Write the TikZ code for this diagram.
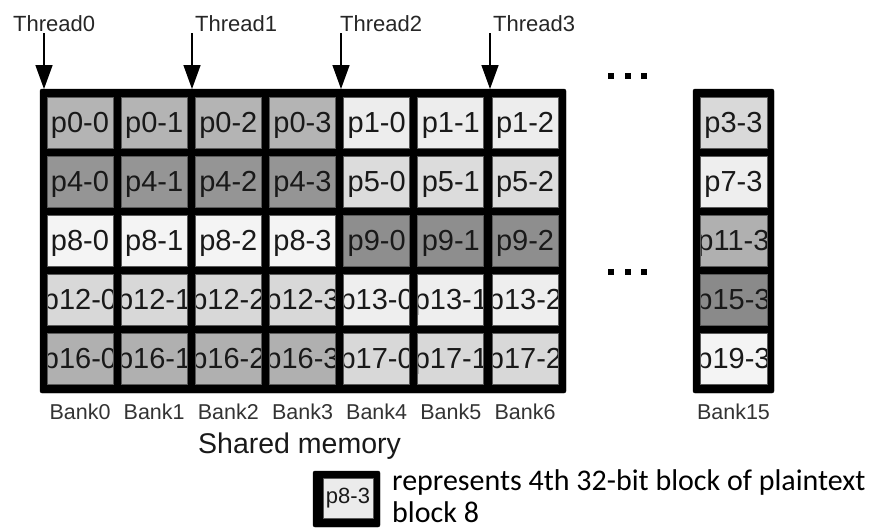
\documentclass[tikz,border=0pt]{standalone}
\usepackage{fontspec}
\setmainfont{Liberation Sans}
\newfontfamily\legendfont{Carlito}
\usetikzlibrary{arrows.meta,calc}

% fill shades of the plaintext blocks
\definecolor{rowA0}{HTML}{B4B4B4}
\definecolor{rowB0}{HTML}{EDEDED}
\definecolor{rowC0}{HTML}{D9D9D9}
\definecolor{rowA1}{HTML}{959595}
\definecolor{rowB1}{HTML}{DCDCDC}
\definecolor{rowC1}{HTML}{EEEEEE}
\definecolor{rowA2}{HTML}{F4F4F4}
\definecolor{rowB2}{HTML}{8E8E8E}
\definecolor{rowC2}{HTML}{B0B0B0}
\definecolor{rowA3}{HTML}{D8D8D8}
\definecolor{rowB3}{HTML}{EEEEEE}
\definecolor{rowC3}{HTML}{8A8A8A}
\definecolor{rowA4}{HTML}{B0B0B0}
\definecolor{rowB4}{HTML}{D8D8D8}
\definecolor{rowC4}{HTML}{F4F4F4}
\definecolor{legendcell}{HTML}{EBEBEB}
\definecolor{celledge}{HTML}{5A5A5A}

\tikzset{
  memframe/.style={fill=black, draw=black, rounded corners=2pt, inner sep=0pt,
    outer sep=0pt, anchor=north west},
  cellbox/.style={draw=celledge, line width=0.8pt, minimum width=66pt,
    minimum height=51pt, inner sep=0pt, outer sep=0pt, anchor=north west},
  celltext/.style={font=\fontsize{29}{29}\selectfont, text=black!90,
    anchor=base, inner sep=0pt},
  threadlabel/.style={font=\fontsize{22}{22}\selectfont, text=black!85,
    anchor=base west, inner sep=0pt},
  threadarrow/.style={line width=1.5pt, -{Triangle[width=17pt,length=24pt]},
    shorten <=2pt},
  banklabel/.style={font=\fontsize{21.5}{21.5}\selectfont, text=black!80,
    anchor=base, inner sep=0pt},
  dotsq/.style={fill=black, minimum size=6pt, inner sep=0pt},
  legendtext/.style={font=\legendfont\fontsize{30}{33}\selectfont,
    anchor=base west, inner sep=0pt},
}

% one memory word: name, x, y, fill, label text (clipped to the cell)
\newcommand\memcell[6][66pt]{%
  \node[cellbox, minimum width=#1, fill=#5,
    path picture={\node[celltext] at ([yshift=-10pt]path picture bounding box.center) {#6};}]
    (#2) at (#3,#4) {};}

\begin{document}
\begin{tikzpicture}[x=1pt, y=-1pt]
\useasboundingbox (0,0) rectangle (876,530);

% shared memory banks 0..6
\node[memframe, minimum width=526pt, minimum height=304pt] (mem) at (40,89) {};
\foreach \r in {0,...,4} {
  \pgfmathtruncatemacro\pa{4*\r}
  \pgfmathtruncatemacro\pb{4*\r+1}
  \pgfmathsetmacro\yy{97+59*\r}
  \foreach \c in {0,...,6} {
    \pgfmathsetmacro\xx{47+74.17*\c}
    \ifnum\c<4
      \memcell{cell-\r-\c}{\xx}{\yy}{rowA\r}{p\pa-\c}
    \else
      \pgfmathtruncatemacro\k{\c-4}
      \memcell{cell-\r-\c}{\xx}{\yy}{rowB\r}{p\pb-\k}
    \fi
  }
}

% bank 15
\node[memframe, minimum width=81pt, minimum height=304pt] (mem15) at (693,89) {};
\foreach \r in {0,...,4} {
  \pgfmathtruncatemacro\pc{4*\r+3}
  \pgfmathsetmacro\yy{97+59*\r}
  \memcell[67pt]{cell-\r-15}{700}{\yy}{rowC\r}{p\pc-3}
}

% bank names
\foreach \c in {0,...,6} {
  \pgfmathsetmacro\xx{80+74.17*\c}
  \node[banklabel] (bank\c) at (\xx,419) {Bank\c};
}
\node[banklabel] (bank15) at (733.5,419) {Bank15};

% elided banks
\node[dotsq] (da1) at (611,75.5) {};
\node[dotsq] (da2) at (627.5,75.5) {};
\node[dotsq] (da3) at (644,75.5) {};
\node[dotsq] (db1) at (611,272) {};
\node[dotsq] (db2) at (627.5,272) {};
\node[dotsq] (db3) at (644,272) {};

% threads and their access points
\node[threadlabel] (thr0) at (13,31) {Thread0};
\node[threadlabel] (thr1) at (195,31) {Thread1};
\node[threadlabel] (thr2) at (340,31) {Thread2};
\node[threadlabel] (thr3) at (493,31) {Thread3};
\coordinate (t0) at (44,89);
\coordinate (t1) at (192,89);
\coordinate (t2) at (341,89);
\coordinate (t3) at (490,89);
\foreach \i in {0,...,3}
  \draw[threadarrow] (thr\i.south -| t\i) -- (t\i);

\node[anchor=base west, inner sep=0pt, font=\fontsize{28.5}{28.5}\selectfont,
  text=black!90] (shm) at (198,453) {Shared memory};

% legend
\node[memframe, minimum width=67pt, minimum height=56pt] (legframe) at (313,471) {};
\node[cellbox, minimum width=50pt, minimum height=40pt, fill=legendcell,
  font=\fontsize{22}{22}\selectfont, text=black!90] (legcell) at (323,478) {p8-3};
\node[legendtext] (leg1) at (392,490) {represents 4th 32-bit block of plaintext};
\node[legendtext] (leg2) at (392,522) {block 8};
\end{tikzpicture}
\end{document}
